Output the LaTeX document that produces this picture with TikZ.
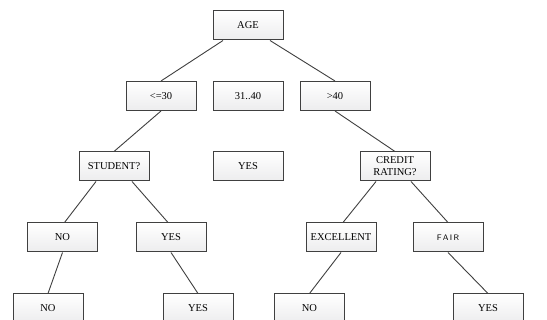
\documentclass[tikz,border=0pt]{standalone}
\usepackage{fontspec}
\setmainfont{Liberation Serif}
\usetikzlibrary{shadings}

\begin{document}
\begin{tikzpicture}[x=1pt, y=-1pt,
    box/.style={draw=black!75, line width=1pt, top color=white, bottom color=blue!3!gray!14,
      minimum width=70pt, minimum height=29pt, inner sep=0pt, align=center,
      font=\fontsize{10.5}{12}\selectfont},
    edge/.style={draw=black!75, line width=0.9pt}]
  \clip (0,0) rectangle (547,320);
  \fill[white] (0,0) rectangle (547,320);
  % root
  \node[box] (age) at (248,25.5) {AGE};
  % age ranges
  \node[box] (le30) at (161,96) {<=30};
  \node[box] (mid) at (248,96) {31..40};
  \node[box] (gt40) at (335,96) {>40};
  % attributes
  \node[box] (student) at (114,166.5) {STUDENT?};
  \node[box] (yesmid) at (248,166.5) {YES};
  \node[box] (credit) at (395,166.5) {CREDIT\\RATING?};
  % attribute values
  \node[box] (stno) at (62.5,237.5) {NO};
  \node[box] (styes) at (171,237.5) {YES};
  \node[box] (excl) at (341,237.5) {EXCELLENT};
  \node[box, font=\fontfamily{lmss}\fontsize{8}{9}\selectfont] (fair) at (448,237.5) {F\,A\,I\,R};
  % leaves
  \node[box] (leafa) at (48,308.5) {NO};
  \node[box] (leafb) at (198,308.5) {YES};
  \node[box] (leafc) at (309.5,308.5) {NO};
  \node[box] (leafd) at (488,308.5) {YES};
  % branches
  \draw[edge] ([xshift=-25pt]age.south) -- (le30.north);
  \draw[edge] ([xshift=22pt]age.south) -- (gt40.north);
  \draw[edge] (le30.south) -- (student.north);
  \draw[edge] (gt40.south) -- (credit.north);
  \draw[edge] ([xshift=-18pt]student.south) -- ([xshift=2pt]stno.north);
  \draw[edge] ([xshift=18pt]student.south) -- ([xshift=-3pt]styes.north);
  \draw[edge] ([xshift=-19pt]credit.south) -- ([xshift=2pt]excl.north);
  \draw[edge] ([xshift=16pt]credit.south) -- (fair.north);
  \draw[edge] (stno.south) -- (leafa.north);
  \draw[edge] (styes.south) -- (leafb.north);
  \draw[edge] (excl.south) -- (leafc.north);
  \draw[edge] (fair.south) -- (leafd.north);
\end{tikzpicture}
\end{document}
